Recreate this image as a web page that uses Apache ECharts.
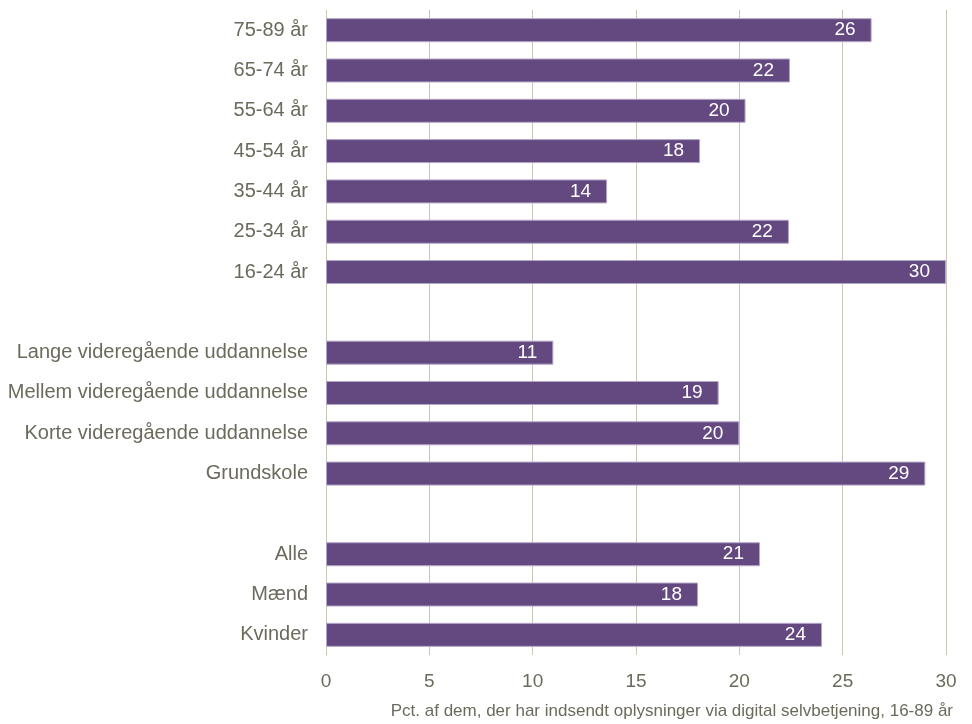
<!DOCTYPE html>
<html>
<head>
<meta charset="utf-8">
<script src="https://cdn.jsdelivr.net/npm/echarts@6/dist/echarts.min.js"></script>
<style>
  html, body { margin: 0; padding: 0; background: #fff; }
  #chart { width: 972px; height: 724px; }
</style>
</head>
<body>
<div id="chart"></div>
<script>
// top to bottom, '' = gap row
const categories = [
  "75-89 år", "65-74 år", "55-64 år", "45-54 år", "35-44 år", "25-34 år", "16-24 år",
  "",
  "Lange videregående uddannelse", "Mellem videregående uddannelse",
  "Korte videregående uddannelse", "Grundskole",
  "",
  "Alle", "Mænd", "Kvinder"
];
const values = [26.4, 22.45, 20.3, 18.1, 13.6, 22.4, 30.0, null, 11.0, 19.0, 20.0, 29.0, null, 21.0, 18.0, 24.0];
const xTicks = [0, 5, 10, 15, 20, 25, 30];
const axisTitle = "Pct. af dem, der har indsendt oplysninger via digital selvbetjening, 16-89 år";

const font = "'Liberation Sans', Arial, sans-serif";
const textColor = "#6b6a5c";
const gridColor = "#c9c6b9";

const chart = echarts.init(document.getElementById("chart"));

const option = {
  animation: false,
  grid: {
    left: 326,
    right: 26,
    top: 10,
    bottom: 69,
    containLabel: false,
    outerBoundsMode: "none",
  },
  xAxis: {
    type: "value",
    min: xTicks[0],
    max: xTicks[xTicks.length - 1],
    interval: 5,
    axisLine: { show: false },
    axisTick: { show: false },
    splitLine: { show: true, lineStyle: { color: gridColor, width: 1 } },
    axisLabel: {
      color: textColor,
      fontFamily: font,
      fontSize: 19,
      margin: 17,
    },
    name: axisTitle,
    nameLocation: "end",
    nameGap: 7,
    nameTextStyle: {
      color: textColor,
      fontFamily: font,
      fontSize: 17,
      align: "right",
      verticalAlign: "top",
      padding: [48, 0, 0, 0],
    },
  },
  yAxis: {
    type: "category",
    inverse: true,
    data: categories,
    axisLine: { show: true, lineStyle: { color: gridColor } },
    axisTick: { show: false },
    axisLabel: {
      color: textColor,
      fontFamily: font,
      fontSize: 20,
      margin: 18,
    },
  },
  series: [
    {
      type: "bar",
      data: values,
      barWidth: 24,
      itemStyle: {
        color: "#634980",
        borderColor: "#b4a6c8",
        borderWidth: 1,
      },
      label: {
        show: true,
        position: "insideRight",
        distance: 16,
        color: "#ffffff",
        fontFamily: font,
        fontSize: 19,
        formatter: (p) => (p.value == null ? "" : Math.round(p.value)),
      },
    },
  ],
};

chart.setOption(option);
</script>
</body>
</html>
